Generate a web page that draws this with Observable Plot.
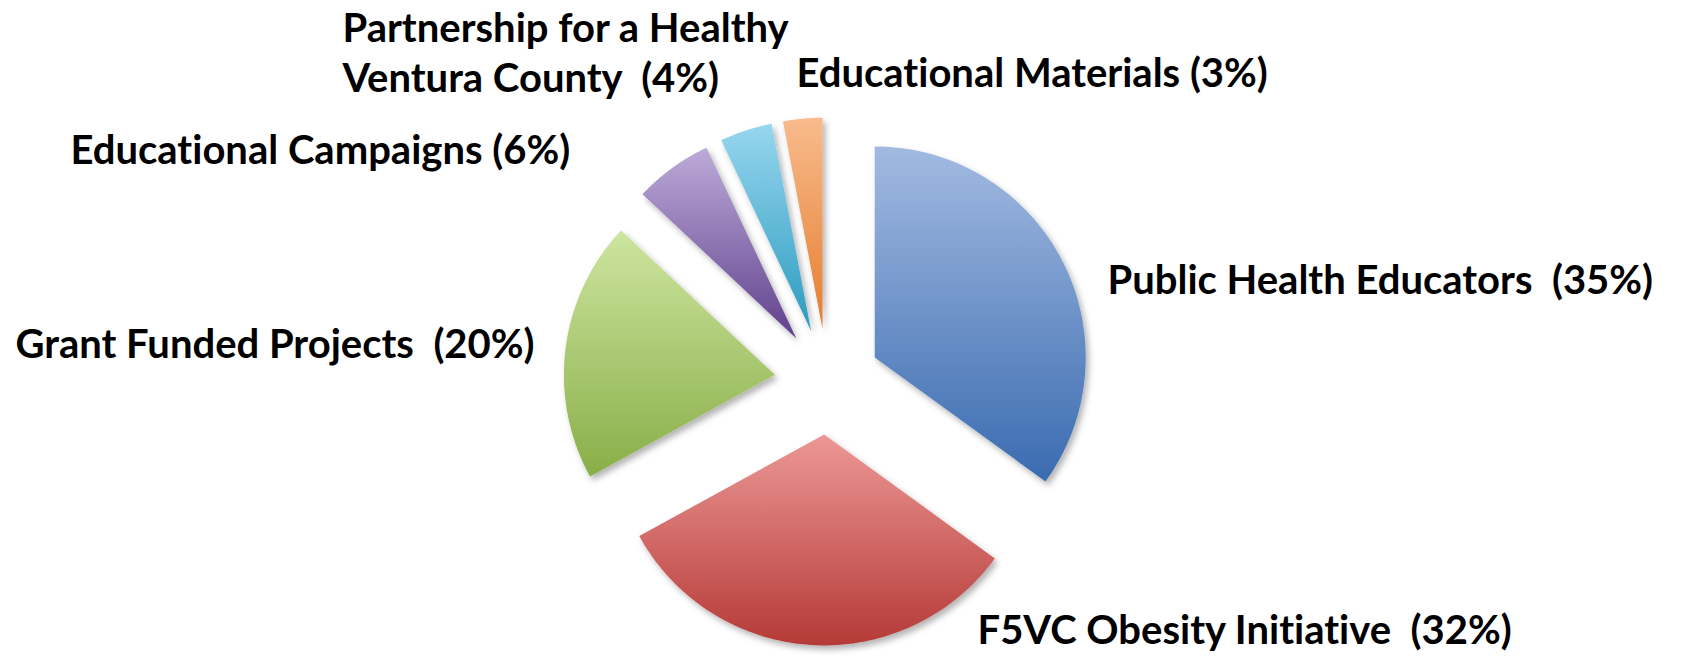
<!DOCTYPE html>
<html>
<head>
<meta charset="utf-8">
<script src="https://cdn.jsdelivr.net/npm/d3@7"></script>
<script src="https://cdn.jsdelivr.net/npm/@observablehq/plot@0.6"></script>
<style>
  html, body { margin: 0; padding: 0; background: #ffffff; }
  #chart svg text { white-space: pre; font-variant-ligatures: none; font-feature-settings: "liga" 0, "clig" 0; }
</style>
</head>
<body>
<div id="chart"></div>
<script>
// ---- data ----
const categories = [
  "Public Health Educators",
  "F5VC Obesity Initiative",
  "Grant Funded Projects",
  "Educational Campaigns",
  "Partnership for a Healthy Ventura County",
  "Educational Materials"
];
const shares = [35, 32, 20, 6, 4, 3];
const labelTexts = [
  "Public Health Educators  (35%)",
  "F5VC Obesity Initiative  (32%)",
  "Grant Funded Projects  (20%)",
  "Educational Campaigns (6%)",
  "Partnership for a Healthy\nVentura County  (4%)",
  "Educational Materials (3%)"
];
const colorTop    = ["#a2bae1", "#ec9896", "#cde5a0", "#bdaad9", "#97d6ef", "#f8bb8d"];
const colorBottom = ["#3a6bb0", "#b53a37", "#89ae48", "#5f418c", "#2b9bbf", "#e47d2e"];

// ---- layout ----
const W = 1687, H = 656;
const cx = 827, cy = 381, R = 211, explode = 53;
const labelAnchor = [[1107, 293], [977, 643], [15, 357], [70, 163], [342, 91], [796, 86]];

// ---- geometry from the data via d3.pie ----
const arcs = d3.pie().sort(null).value(d => d)(shares);
const slices = arcs.map((a, i) => {
  const mid = (a.startAngle + a.endAngle) / 2;
  const ox = cx + explode * Math.sin(mid);
  const oy = cy - explode * Math.cos(mid);
  const pts = [{x: ox, y: oy, name: categories[i]}];
  const n = 80;
  for (let k = 0; k <= n; k++) {
    const t = a.startAngle + (a.endAngle - a.startAngle) * k / n;
    pts.push({x: ox + R * Math.sin(t), y: oy - R * Math.cos(t), name: categories[i]});
  }
  pts.push({x: ox, y: oy, name: categories[i]});
  return pts;
});
const labelRows = labelTexts.map((t, i) => ({text: t, x: labelAnchor[i][0], y: labelAnchor[i][1]}));

const svg = Plot.plot({
  width: W,
  height: H,
  margin: 0,
  x: {domain: [0, W], range: [0, W], axis: null},
  y: {domain: [0, H], range: [0, H], axis: null},
  marks: [
    ...slices.map((pts, i) => Plot.line(pts, {
      x: "x", y: "y", fill: `url(#grad${i})`, stroke: "none", curve: "linear"
    })),
    Plot.text(labelRows, {
      x: "x", y: "y", text: "text",
      textAnchor: "start", lineAnchor: "bottom", lineHeight: 1.25,
      fontSize: 40, fontWeight: 700, fontFamily: "Lato, 'Open Sans', sans-serif", fill: "#000"
    })
  ]
});

const sel = d3.select(svg);
const defs = sel.insert("defs", ":first-child");
colorTop.forEach((c, i) => {
  const g = defs.append("linearGradient").attr("id", `grad${i}`)
    .attr("x1", 0).attr("y1", 0).attr("x2", 0).attr("y2", 1);
  g.append("stop").attr("offset", "0%").attr("stop-color", c);
  g.append("stop").attr("offset", "100%").attr("stop-color", colorBottom[i]);
});
const f = defs.append("filter").attr("id", "shadow")
  .attr("x", "-10%").attr("y", "-10%").attr("width", "130%").attr("height", "130%");
f.append("feDropShadow").attr("dx", 3).attr("dy", 4).attr("stdDeviation", 3)
  .attr("flood-color", "#000").attr("flood-opacity", 0.3);
sel.selectAll('g[aria-label="line"]').attr("filter", "url(#shadow)");

document.getElementById("chart").appendChild(svg);
</script>
</body>
</html>
